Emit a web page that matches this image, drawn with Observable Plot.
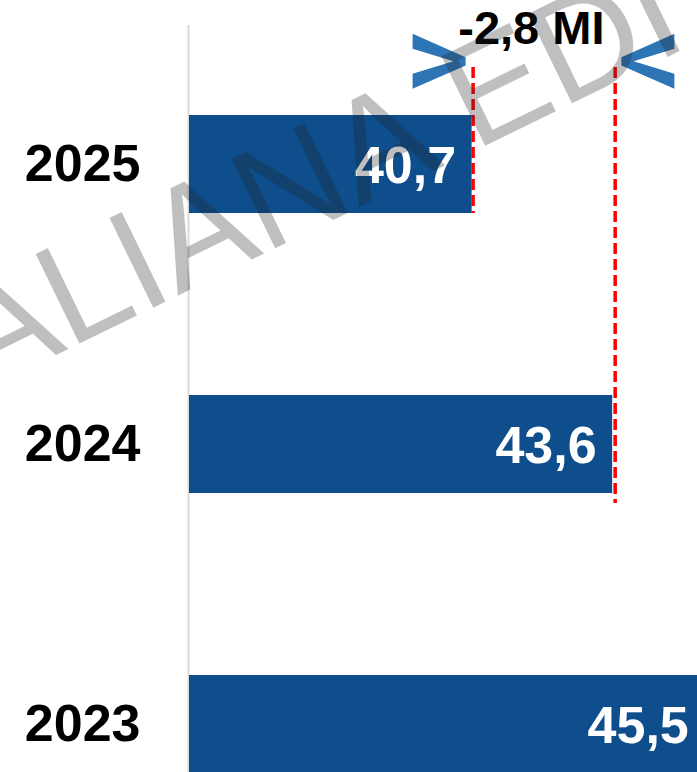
<!DOCTYPE html>
<html>
<head>
<meta charset="utf-8">
<script src="https://cdn.jsdelivr.net/npm/d3@7"></script>
<script src="https://cdn.jsdelivr.net/npm/@observablehq/plot@0.6"></script>
<style>
  html, body { margin: 0; padding: 0; background: #fff; overflow: hidden; }
  #chart svg { display: block; }
</style>
</head>
<body>
<div id="chart"></div>
<script>
// ---- data ----
const years = ["2025", "2024", "2023"];
const values = [40.7, 43.6, 45.5];
const deltaLabel = "-2,8 MI";
const watermark = "ALIANA EDITRICE";
const xDomain = [34.87, 45.35];

const data = years.map((year, i) => ({year, value: values[i]}));
const fmt = v => v.toFixed(1).replace(".", ",");
const font = "'Liberation Sans', Arial, Helvetica, sans-serif";

// chevron symbol (dir = 1 -> ">", dir = -1 -> "<")
function chevron(dir) {
  const pts = [[-0.964,-1],[0.964,-0.15],[0.964,0.15],[-0.964,1],[-0.964,0.455],[0.52,0],[-0.964,-0.455]];
  return {
    draw(ctx, size) {
      const r = Math.sqrt(size / Math.PI);
      pts.forEach(([px, py], i) => {
        const X = dir * px * r, Y = py * r;
        if (i) ctx.lineTo(X, Y); else ctx.moveTo(X, Y);
      });
      ctx.closePath();
    }
  };
}

const chart = Plot.plot({
  width: 697,
  height: 772,
  marginLeft: 189,
  marginRight: 0,
  marginTop: 25,
  marginBottom: 0,
  style: {fontFamily: font, overflow: "hidden", background: "#fff"},
  x: {domain: xDomain, axis: null},
  y: {domain: years, range: [24, 864], paddingInner: 0.65, paddingOuter: 0.325, align: 0.5, label: null},
  marks: [
    Plot.ruleX([xDomain[0]], {stroke: "#d9d9d9", strokeWidth: 2, dx: -1}),
    Plot.barX(data, {x1: xDomain[0], x2: "value", y: "year", fill: "#0E4E8C"}),
    Plot.axisY({tickSize: 0, tickPadding: 49, fontSize: 52, fontWeight: "bold", fill: "black", label: null}),
    Plot.text(data, {x: "value", y: "year", text: d => fmt(d.value), textAnchor: "end", dx: -16, dy: 2,
      fill: "white", fontSize: 52, fontWeight: "bold"}),
    // dashed reference lines at the ends of 2025 and 2024 bars
    Plot.ruleX([data[0]], {x: "value", y1: "year", y2: "year", insetTop: -48, dx: 1,
      stroke: "#FF0000", strokeWidth: 3.5, strokeDasharray: "11,5"}),
    Plot.ruleX([data[1]], {x: "value", y1: "year", y2: "year", insetTop: -328, insetBottom: -10, dx: 2.5,
      stroke: "#FF0000", strokeWidth: 3.5, strokeDasharray: "11,5"}),
    // chevrons
    Plot.dot([values[0]], {x: d => d, frameAnchor: "top", dy: 35.8, dx: -33, r: 27.5,
      symbol: chevron(1), fill: "#2E75B6", stroke: "none"}),
    Plot.dot([values[1]], {x: d => d, frameAnchor: "top", dy: 35.8, dx: 35.2, r: 27.5,
      symbol: chevron(-1), fill: "#2E75B6", stroke: "none"}),
    // delta label
    Plot.text([deltaLabel], {x: () => (values[0] + values[1]) / 2, text: d => d, frameAnchor: "top",
      lineAnchor: "middle", dy: 3, dx: -11, fontSize: 47, fontWeight: "bold", fill: "black"}),
    // watermark
    Plot.text([watermark], {text: d => d, frameAnchor: "top-left", dx: -39 - 189, dy: 349 - 25,
      rotate: -26, textAnchor: "start", lineAnchor: "middle", fontSize: 145, fill: "#222", fillOpacity: 0.29})
  ]
});
document.getElementById("chart").appendChild(chart);
</script>
</body>
</html>
